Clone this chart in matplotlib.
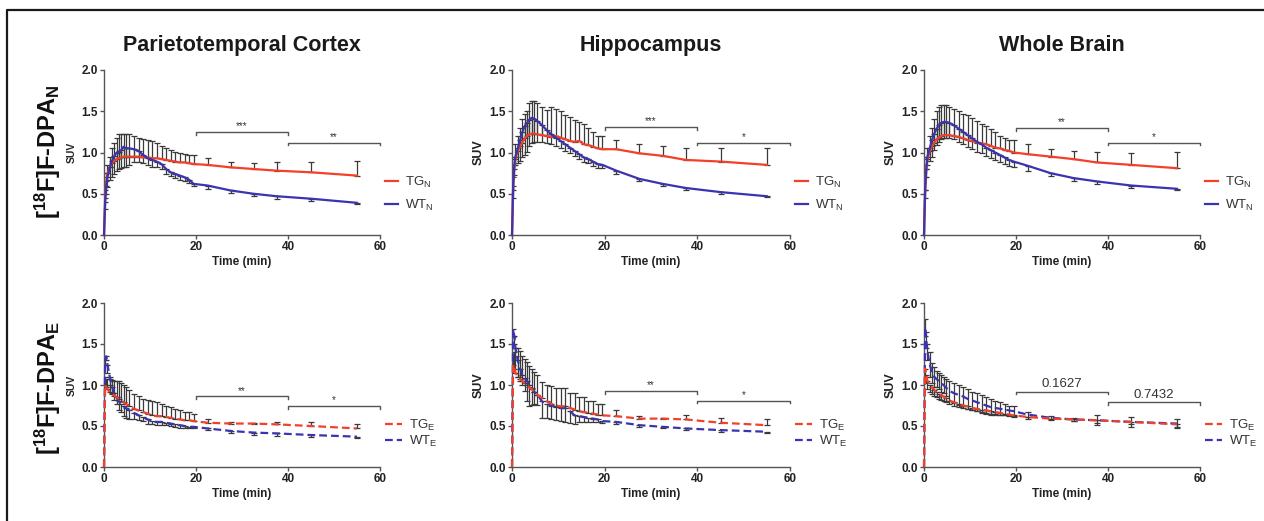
import matplotlib
matplotlib.use("Agg")
import matplotlib.pyplot as plt
from matplotlib.lines import Line2D
import numpy as np

plt.rcParams['font.family'] = ['Liberation Sans', 'DejaVu Sans']
plt.rcParams['mathtext.fontset'] = 'custom'
plt.rcParams['mathtext.rm'] = 'Liberation Sans'
plt.rcParams['mathtext.bf'] = 'Liberation Sans:bold'
plt.rcParams['mathtext.default'] = 'regular'

# ---------------- data ----------------
regions = ["Parietotemporal Cortex", "Hippocampus", "Whole Brain"]
row_labels = [r"[$^{\mathbf{18}}$F]F-DPA$_{\mathbf{N}}$", r"[$^{\mathbf{18}}$F]F-DPA$_{\mathbf{E}}$"]
time_min = [0, 0.25, 0.5, 0.75, 1.25, 1.75, 2.25, 2.75, 3.25, 3.75, 4.25, 4.75, 5.5, 6.5, 7.5,
            8.5, 9.5, 10.5, 11.5, 12.5, 13.5, 14.5, 15.5, 16.5, 17.5, 18.5, 19.5, 22.5, 27.5,
            32.5, 37.5, 45, 55]
x_ticks = [0, 20, 40, 60]
y_ticks = [0.0, 0.5, 1.0, 1.5, 2.0]

# [18F]F-DPA_N
pt_tg_n = [0, 0.45, 0.65, 0.75, 0.82, 0.87, 0.90, 0.92, 0.93, 0.94, 0.95, 0.95, 0.95, 0.95, 0.95, 0.94, 0.94,
           0.93, 0.93, 0.92, 0.91, 0.90, 0.89, 0.88, 0.88, 0.87, 0.86, 0.85, 0.82, 0.80, 0.78, 0.76, 0.72]
pt_tg_n_err = [0, 0.10, 0.10, 0.10, 0.13, 0.18, 0.22, 0.26, 0.29, 0.29, 0.28, 0.28, 0.27, 0.25, 0.23, 0.22, 0.21,
               0.21, 0.19, 0.16, 0.15, 0.13, 0.12, 0.11, 0.10, 0.10, 0.11, 0.08, 0.06, 0.07, 0.10, 0.13, 0.18]
pt_wt_n = [0, 0.40, 0.60, 0.70, 0.82, 0.90, 0.96, 1.00, 1.01, 1.03, 1.07, 1.05, 1.05, 1.04, 1.02, 0.97, 0.93,
           0.91, 0.89, 0.86, 0.80, 0.76, 0.74, 0.72, 0.70, 0.67, 0.62, 0.60, 0.54, 0.50, 0.47, 0.44, 0.39]
pt_wt_n_err = [0, 0.08, 0.10, 0.12, 0.15, 0.20, 0.22, 0.22, 0.21, 0.22, 0.24, 0.22, 0.20, 0.16, 0.14, 0.10, 0.08,
               0.08, 0.07, 0.06, 0.06, 0.05, 0.05, 0.05, 0.04, 0.04, 0.03, 0.04, 0.03, 0.03, 0.03, 0.03, 0.02]

hc_tg_n = [0, 0.55, 0.80, 0.92, 1.02, 1.08, 1.12, 1.17, 1.20, 1.22, 1.23, 1.23, 1.22, 1.21, 1.20, 1.19, 1.20,
           1.18, 1.16, 1.14, 1.13, 1.14, 1.10, 1.09, 1.07, 1.05, 1.04, 1.04, 0.99, 0.96, 0.91, 0.89, 0.85]
hc_tg_n_err = [0, 0.15, 0.15, 0.18, 0.18, 0.22, 0.28, 0.30, 0.30, 0.38, 0.39, 0.39, 0.38, 0.34, 0.32, 0.36, 0.33,
               0.32, 0.29, 0.29, 0.27, 0.23, 0.25, 0.21, 0.18, 0.15, 0.16, 0.11, 0.11, 0.12, 0.14, 0.16, 0.20]
hc_wt_n = [0, 0.60, 0.85, 0.95, 1.05, 1.15, 1.25, 1.32, 1.36, 1.40, 1.42, 1.41, 1.38, 1.33, 1.27, 1.22, 1.18,
           1.14, 1.10, 1.06, 1.02, 0.98, 0.94, 0.92, 0.89, 0.86, 0.85, 0.78, 0.68, 0.62, 0.57, 0.52, 0.47]
hc_wt_n_err = [0, 0.15, 0.12, 0.10, 0.18, 0.25, 0.30, 0.35, 0.35, 0.32, 0.30, 0.28, 0.25, 0.20, 0.16, 0.12, 0.10,
               0.09, 0.08, 0.07, 0.06, 0.06, 0.06, 0.05, 0.05, 0.05, 0.04, 0.04, 0.03, 0.02, 0.02, 0.02, 0.01]

wb_tg_n = [0, 0.55, 0.80, 0.92, 1.02, 1.08, 1.12, 1.16, 1.18, 1.20, 1.21, 1.21, 1.21, 1.20, 1.19, 1.17, 1.15,
           1.14, 1.12, 1.11, 1.10, 1.08, 1.06, 1.05, 1.03, 1.02, 1.00, 0.98, 0.95, 0.92, 0.88, 0.85, 0.81]
wb_tg_n_err = [0, 0.15, 0.15, 0.13, 0.18, 0.22, 0.28, 0.34, 0.37, 0.38, 0.37, 0.36, 0.34, 0.33, 0.31, 0.30, 0.30,
               0.28, 0.26, 0.24, 0.22, 0.20, 0.19, 0.15, 0.14, 0.13, 0.15, 0.12, 0.09, 0.10, 0.13, 0.15, 0.20]
wb_wt_n = [0, 0.55, 0.80, 0.95, 1.05, 1.15, 1.23, 1.29, 1.33, 1.36, 1.37, 1.37, 1.36, 1.33, 1.29, 1.25, 1.21,
           1.17, 1.13, 1.10, 1.06, 1.03, 1.00, 0.97, 0.94, 0.91, 0.89, 0.84, 0.75, 0.69, 0.65, 0.60, 0.56]
wb_wt_n_err = [0, 0.10, 0.10, 0.10, 0.15, 0.20, 0.20, 0.20, 0.20, 0.20, 0.20, 0.20, 0.19, 0.17, 0.16, 0.15, 0.14,
               0.13, 0.12, 0.11, 0.10, 0.10, 0.09, 0.08, 0.08, 0.07, 0.06, 0.06, 0.04, 0.03, 0.03, 0.03, 0.02]

# [18F]F-DPA_E
pt_tg_e = [0, 1.00, 0.97, 0.95, 0.91, 0.89, 0.87, 0.85, 0.83, 0.81, 0.79, 0.77, 0.74, 0.71, 0.69, 0.67, 0.65,
           0.63, 0.62, 0.62, 0.61, 0.60, 0.59, 0.58, 0.57, 0.57, 0.56, 0.54, 0.53, 0.53, 0.52, 0.50, 0.47]
pt_tg_e_err = [0, 0.10, 0.10, 0.12, 0.16, 0.17, 0.18, 0.20, 0.22, 0.22, 0.21, 0.20, 0.20, 0.18, 0.18, 0.16, 0.17,
               0.18, 0.17, 0.15, 0.13, 0.13, 0.12, 0.11, 0.10, 0.10, 0.09, 0.05, 0.02, 0.01, 0.03, 0.05, 0.05]
pt_wt_e = [0, 1.30, 1.35, 1.25, 1.10, 0.98, 0.90, 0.85, 0.80, 0.77, 0.74, 0.72, 0.69, 0.66, 0.63, 0.61, 0.58,
           0.56, 0.55, 0.55, 0.54, 0.53, 0.52, 0.51, 0.50, 0.49, 0.49, 0.47, 0.44, 0.42, 0.41, 0.39, 0.37]
pt_wt_e_err = [0, 0.05, 0.05, 0.10, 0.10, 0.08, 0.08, 0.08, 0.10, 0.10, 0.12, 0.12, 0.10, 0.08, 0.06, 0.05, 0.05,
               0.04, 0.04, 0.04, 0.03, 0.03, 0.03, 0.03, 0.02, 0.02, 0.02, 0.02, 0.03, 0.03, 0.03, 0.03, 0.02]

hc_tg_e = [0, 1.25, 1.20, 1.15, 1.10, 1.07, 1.05, 1.02, 1.00, 0.97, 0.95, 0.92, 0.88, 0.84, 0.80, 0.77, 0.75,
           0.74, 0.74, 0.72, 0.70, 0.68, 0.67, 0.66, 0.65, 0.64, 0.63, 0.62, 0.59, 0.59, 0.58, 0.54, 0.51]
hc_tg_e_err = [0, 0.10, 0.20, 0.30, 0.35, 0.35, 0.30, 0.30, 0.28, 0.26, 0.25, 0.24, 0.24, 0.20, 0.20, 0.22, 0.21,
               0.22, 0.22, 0.18, 0.20, 0.17, 0.18, 0.14, 0.15, 0.13, 0.14, 0.07, 0.03, 0.01, 0.06, 0.06, 0.07]
hc_wt_e = [0, 1.68, 1.60, 1.45, 1.30, 1.20, 1.12, 1.08, 1.05, 1.00, 0.96, 0.92, 0.88, 0.80, 0.77, 0.75, 0.73,
           0.72, 0.72, 0.68, 0.63, 0.62, 0.61, 0.60, 0.59, 0.58, 0.56, 0.55, 0.51, 0.49, 0.47, 0.45, 0.43]
hc_wt_e_err = [0, 0.10, 0.10, 0.15, 0.20, 0.15, 0.12, 0.15, 0.25, 0.25, 0.20, 0.15, 0.12, 0.20, 0.17, 0.17, 0.16,
               0.16, 0.17, 0.14, 0.10, 0.07, 0.06, 0.05, 0.04, 0.03, 0.02, 0.02, 0.02, 0.02, 0.02, 0.02, 0.02]

wb_tg_e = [0, 1.20, 1.12, 1.05, 1.00, 0.97, 0.94, 0.91, 0.89, 0.87, 0.86, 0.84, 0.81, 0.79, 0.77, 0.75, 0.74,
           0.72, 0.71, 0.70, 0.69, 0.68, 0.67, 0.66, 0.65, 0.64, 0.63, 0.61, 0.59, 0.58, 0.57, 0.55, 0.52]
wb_tg_e_err = [0, 0.10, 0.10, 0.10, 0.08, 0.08, 0.07, 0.06, 0.06, 0.05, 0.05, 0.05, 0.04, 0.04, 0.04, 0.03, 0.03,
               0.03, 0.03, 0.03, 0.03, 0.03, 0.02, 0.02, 0.02, 0.02, 0.02, 0.02, 0.02, 0.02, 0.03, 0.03, 0.03]
wb_wt_e = [0, 1.70, 1.55, 1.40, 1.25, 1.15, 1.10, 1.07, 1.05, 1.02, 1.00, 0.97, 0.93, 0.90, 0.88, 0.86, 0.83,
           0.81, 0.79, 0.77, 0.75, 0.73, 0.72, 0.71, 0.70, 0.69, 0.68, 0.64, 0.60, 0.58, 0.57, 0.55, 0.53]
wb_wt_e_err = [0, 0.10, 0.10, 0.10, 0.15, 0.12, 0.12, 0.10, 0.10, 0.10, 0.10, 0.10, 0.12, 0.12, 0.12, 0.12, 0.12,
               0.11, 0.11, 0.11, 0.10, 0.10, 0.09, 0.08, 0.07, 0.06, 0.06, 0.03, 0.02, 0.02, 0.06, 0.06, 0.05]

# significance brackets: (x0, x1, level, label)
brackets = [
    [(20, 40, 1.25, "***"), (40, 60, 1.12, "**")],
    [(20, 40, 1.31, "***"), (40, 60, 1.12, "*")],
    [(20, 40, 1.30, "**"), (40, 60, 1.12, "*")],
    [(20, 40, 0.86, "**"), (40, 60, 0.745, "*")],
    [(20, 40, 0.93, "**"), (40, 60, 0.81, "*")],
    [(20, 40, 0.92, "0.1627"), (40, 60, 0.79, "0.7432")],
]

panels = [
    (pt_tg_n, pt_tg_n_err, pt_wt_n, pt_wt_n_err),
    (hc_tg_n, hc_tg_n_err, hc_wt_n, hc_wt_n_err),
    (wb_tg_n, wb_tg_n_err, wb_wt_n, wb_wt_n_err),
    (pt_tg_e, pt_tg_e_err, pt_wt_e, pt_wt_e_err),
    (hc_tg_e, hc_tg_e_err, hc_wt_e, hc_wt_e_err),
    (wb_tg_e, wb_tg_e_err, wb_wt_e, wb_wt_e_err),
]

# ---------------- style ----------------
RED = "#f2402b"
BLUE = "#3b33b0"
GREY = "#3a3a3a"
AX = "#555555"

W, H = 1264, 521
fig = plt.figure(figsize=(W / 100, H / 100), dpi=100)

lefts = [104, 512, 924]
widths = [276, 278, 276]
rows_px = [(70, 235), (303, 467)]

t = np.array(time_min)
for r in range(2):
    for c in range(3):
        idx = r * 3 + c
        tg, tg_err, wt, wt_err = [np.array(a) for a in panels[idx]]
        top_px, bot_px = rows_px[r]
        ax = fig.add_axes([lefts[c] / W, 1 - bot_px / H, widths[c] / W, (bot_px - top_px) / H])
        ls = '-' if r == 0 else (0, (3.5, 1.8))
        zero = np.zeros_like(tg_err)
        # error bars
        if idx == 5:
            wt_yerr = [wt_err[1:], wt_err[1:]]
            tg_yerr = [tg_err[1:], zero[1:]]
        else:
            wt_yerr = [wt_err[1:], zero[1:]]
            tg_yerr = [zero[1:], tg_err[1:]]
        ax.errorbar(t[1:], wt[1:], yerr=wt_yerr, fmt='none', ecolor=GREY, elinewidth=0.9,
                    capsize=2.0, capthick=0.9, zorder=2)
        ax.errorbar(t[1:], tg[1:], yerr=tg_yerr, fmt='none', ecolor=GREY, elinewidth=0.9,
                    capsize=2.0, capthick=0.9, zorder=2)
        lw = 1.6
        if r == 0:
            ax.plot(t, tg, color=RED, lw=lw, ls=ls, zorder=3, clip_on=False, label=r"TG$_\mathregular{N}$")
            ax.plot(t, wt, color=BLUE, lw=lw, ls=ls, zorder=4, clip_on=False, label=r"WT$_\mathregular{N}$")
        else:
            ax.plot(t, wt, color=BLUE, lw=lw, ls=ls, zorder=3, clip_on=False, label=r"WT$_\mathregular{E}$")
            ax.plot(t, tg, color=RED, lw=lw, ls=ls, zorder=4, clip_on=False, label=r"TG$_\mathregular{E}$")

        ax.set_xlim(0, 60)
        ax.set_ylim(0, 2.0)
        ax.set_xticks(x_ticks)
        ax.set_yticks(y_ticks)
        ax.set_yticklabels([f"{v:.1f}" for v in y_ticks])
        for s in ['top', 'right']:
            ax.spines[s].set_visible(False)
        for s in ['left', 'bottom']:
            ax.spines[s].set_color(AX)
            ax.spines[s].set_linewidth(1.0)
        ax.tick_params(axis='both', colors=AX, length=3, width=1.0, labelsize=8.5, pad=1.5,
                       labelcolor="#222222")
        for lab in ax.get_xticklabels() + ax.get_yticklabels():
            lab.set_fontweight('bold')
        ax.set_xlabel("Time (min)", fontsize=8.5, fontweight='bold', color="#222222", labelpad=2)
        ax.set_ylabel("SUV", fontsize=7.5 if c == 0 else 9, fontweight='bold', color="#222222", labelpad=3)
        if r == 0:
            ax.set_title(regions[c], fontsize=15.5, fontweight='bold', color="#1a1a1a", pad=14)

        # brackets
        for (x0, x1, lv, lab) in brackets[idx]:
            ax.plot([x0, x0, x1, x1], [lv - 0.035, lv, lv, lv - 0.035], color=AX, lw=1.0, clip_on=False)
            is_num = lab[0].isdigit()
            ax.text((x0 + x1) / 2, lv + (0.02 if is_num else 0.005), lab, ha='center', va='bottom',
                    fontsize=9.5 if is_num else 7, color="#333333")

        # legend
        handles, labels = ax.get_legend_handles_labels()
        if r == 0:
            order = [0, 1]
            ax.legend([handles[i] for i in order], [labels[i] for i in order],
                      loc='center left', bbox_to_anchor=(1.0, 0.25), frameon=False,
                      fontsize=9.5, handlelength=1.0, handletextpad=0.5, labelspacing=0.6,
                      borderaxespad=0.0, labelcolor="#333333")
        else:
            order = [1, 0]
            ax.legend([handles[i] for i in order], [labels[i] for i in order],
                      loc='center left', bbox_to_anchor=(1.0, 0.205), frameon=False,
                      fontsize=9.5, handlelength=1.3, handletextpad=0.5, labelspacing=0.05,
                      borderaxespad=0.0, labelcolor="#333333")

# row labels
fig.text(48 / W, 1 - 152 / H, row_labels[0], rotation=90, fontsize=17, fontweight='bold',
         ha='center', va='center', color="#111111")
fig.text(48 / W, 1 - 388 / H, row_labels[1], rotation=90, fontsize=17, fontweight='bold',
         ha='center', va='center', color="#111111")

# border (top and left)
fig.add_artist(Line2D([7 / W, 7 / W, 1.0], [0.0, 1 - 10 / H, 1 - 10 / H],
                      transform=fig.transFigure, color="#1a1a1a", lw=1.6))

fig.savefig("out.png", dpi=100)
